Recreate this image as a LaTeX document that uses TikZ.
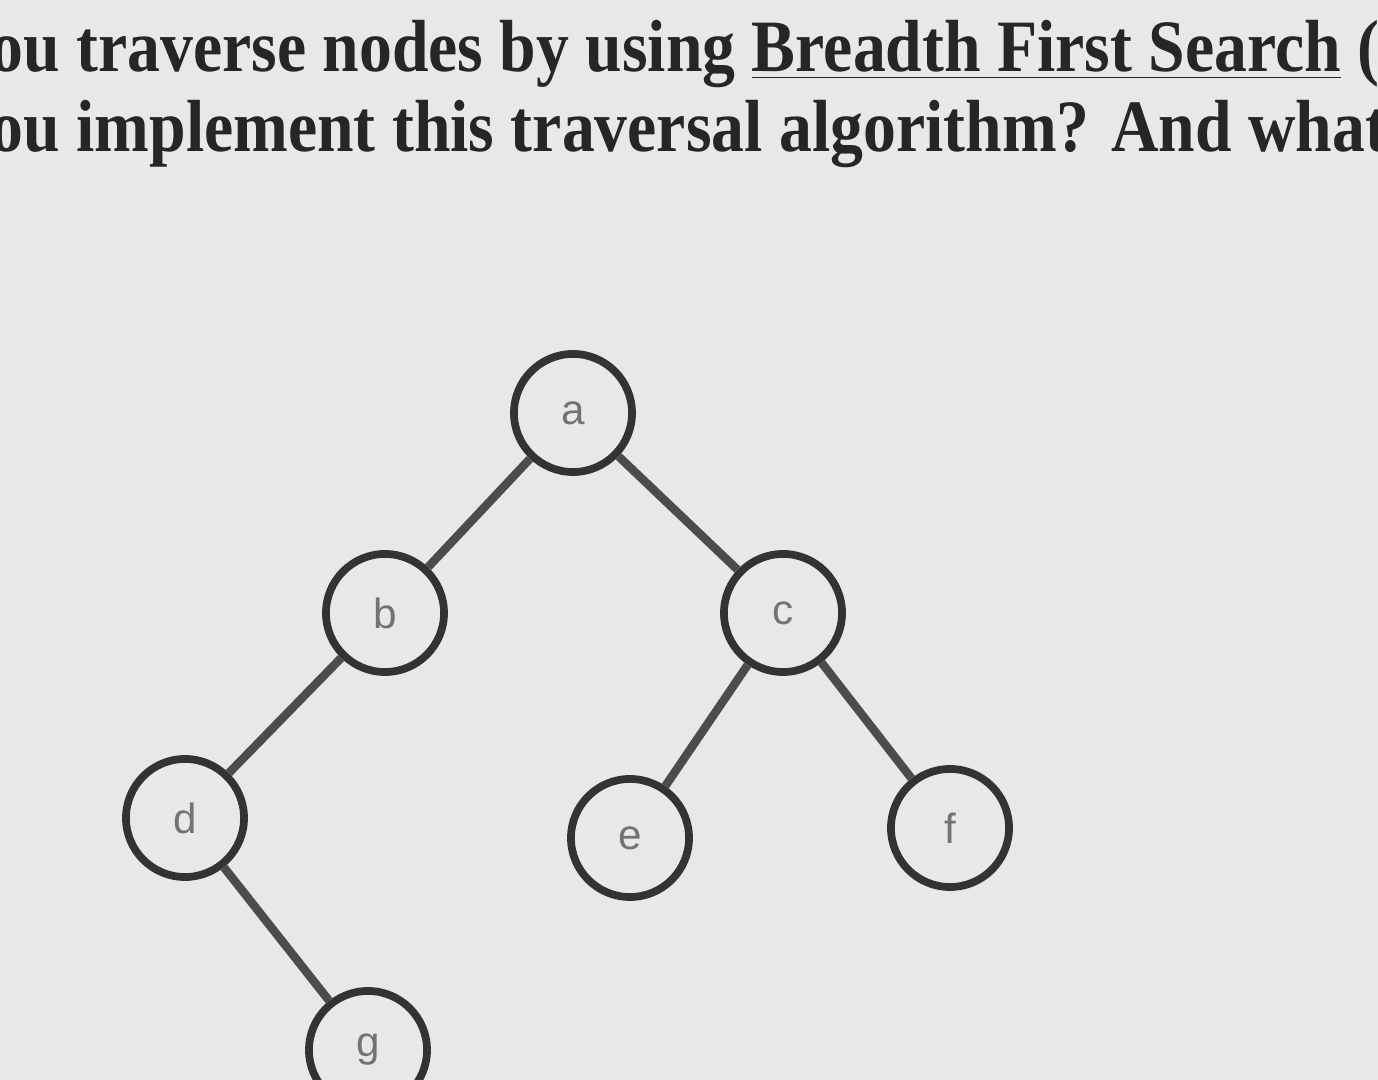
\documentclass[tikz,border=0pt]{standalone}
\usepackage{fontspec}
\setmainfont{Liberation Serif}
\newfontfamily\lab{Liberation Sans}
\begin{document}
\begin{tikzpicture}[x=0.01cm,y=-0.01cm,
  vtx/.style={circle,draw=black!80,line width=2.2pt,minimum size=1.18cm,inner sep=0pt,font=\lab\fontsize{12}{12}\selectfont,text=black!55},
  edge/.style={draw=black!70,line width=2.4pt},
  hdr/.style={anchor=base west,inner sep=0pt,xscale=0.89,font=\bfseries\fontsize{21}{21}\selectfont,text=black!85}]
\clip (0,0) rectangle (1378,1080);
\useasboundingbox (0,0) rectangle (1378,1080);
\fill[black!9] (0,0) rectangle (1378,1080);
\node[hdr] (t1) at (-10,72) {ou traverse nodes by using \underline{Breadth First Search} (};
\node[hdr] (t2) at (-10,152) {ou implement this traversal algorithm? And what is};
\node[vtx] (a) at (573,413) {a};
\node[vtx] (b) at (385,613) {b};
\node[vtx] (c) at (783,613) {c};
\node[vtx] (d) at (185,818) {d};
\node[vtx] (e) at (630,838) {e};
\node[vtx] (f) at (950,828) {f};
\node[vtx] (g) at (368,1050) {g};
\draw[edge] (a) -- (b);
\draw[edge] (a) -- (c);
\draw[edge] (b) -- (d);
\draw[edge] (c) -- (e);
\draw[edge] (c) -- (f);
\draw[edge] (d) -- (g);
\end{tikzpicture}
\end{document}
